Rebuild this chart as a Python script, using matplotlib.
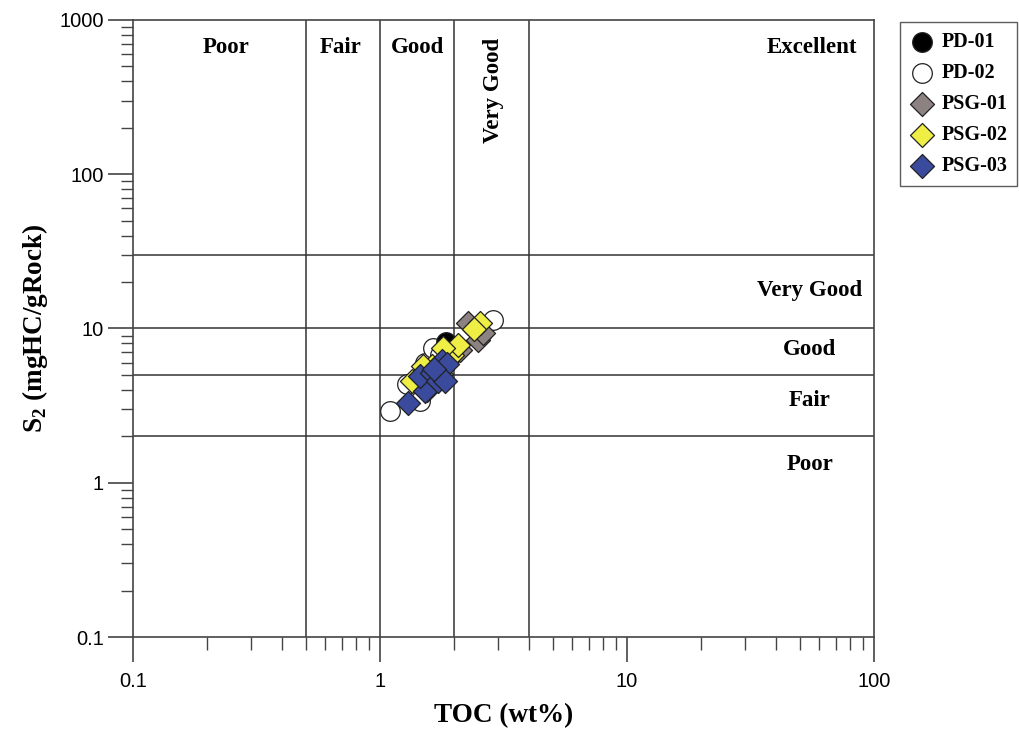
import numpy as np
import matplotlib
matplotlib.use('Agg')
import matplotlib.pyplot as plt
from matplotlib.ticker import LogLocator, FuncFormatter, NullFormatter

plt.rcParams['font.family'] = ['Liberation Sans', 'DejaVu Sans']
plt.rcParams['mathtext.fontset'] = 'custom'
plt.rcParams['mathtext.rm'] = 'Liberation Serif:bold'
plt.rcParams['mathtext.bf'] = 'Liberation Serif:bold'

# samples (TOC wt%, S2 mgHC/gRock)
pd01_toc = [1.85]
pd01_s2 = [8.2]
pd02_toc = [1.10, 1.29, 1.45, 1.52, 1.64, 1.75, 2.61, 2.87]
pd02_s2 = [2.93, 4.39, 3.41, 6.0, 7.5, 6.7, 9.7, 11.3]
psg01_toc = [2.27, 2.49, 2.62, 1.97, 1.77, 1.55, 2.10]
psg01_s2 = [10.9, 8.4, 9.3, 6.7, 5.1, 4.0, 7.2]
psg02_toc = [2.54, 1.96, 2.07, 1.62, 1.49, 1.35, 1.80, 2.40]
psg02_s2 = [10.8, 6.7, 7.8, 5.75, 5.75, 4.6, 7.5, 9.9]
psg03_toc = [1.30, 1.52, 1.45, 1.62, 1.72, 1.78, 1.87, 1.83, 1.66]
psg03_s2 = [3.3, 3.96, 4.95, 5.17, 4.6, 6.2, 5.9, 4.6, 5.5]

# classification limits
toc_limits = [0.5, 1, 2, 4]
s2_limits = [2, 5, 10, 30]
toc_classes = ['Poor', 'Fair', 'Good', 'Very Good', 'Excellent']
toc_class_x = [0.238, 0.695, 1.42, 2.87, 56]
s2_classes = ['Very Good', 'Good', 'Fair', 'Poor']
s2_class_y = [17.6, 7.3, 3.4, 1.31]

fig = plt.figure(figsize=(10.19, 7.29), dpi=100)
ax = fig.add_axes([0.1305, 0.1262, 0.7272, 0.8464])
ax.set_xscale('log')
ax.set_yscale('log')
ax.set_xlim(0.1, 100)
ax.set_ylim(0.1, 1000)

for v in toc_limits:
    ax.axvline(v, color='#333333', lw=1.1, zorder=1)
for v in s2_limits:
    ax.axhline(v, color='#333333', lw=1.1, zorder=1)

lab_font = dict(family='Liberation Serif', weight='bold', fontsize=16.5)
for name, x in zip(toc_classes, toc_class_x):
    if name == 'Very Good':
        ax.text(x, 351, name, rotation=90, ha='center', va='center', **lab_font)
    else:
        ax.text(x, 665, name, ha='center', va='center', **lab_font)
for name, y in zip(s2_classes, s2_class_y):
    ax.text(55, y, name, ha='center', va='center', **lab_font)

mk = dict(edgecolors='#222222', linewidths=0.9, zorder=3)
h2 = ax.scatter(pd02_toc, pd02_s2, marker='o', s=200, facecolors='white', label='PD-02', **mk)
h1 = ax.scatter(pd01_toc, pd01_s2, marker='o', s=200, facecolors='black', label='PD-01', **mk)
h3 = ax.scatter(psg01_toc, psg01_s2, marker='D', s=150, facecolors='#8c8282', label='PSG-01', **mk)
h4 = ax.scatter(psg02_toc, psg02_s2, marker='D', s=150, facecolors='#eeee44', label='PSG-02', **mk)
h5 = ax.scatter(psg03_toc, psg03_s2, marker='D', s=150, facecolors='#3a4a9c', label='PSG-03', **mk)

fmt = FuncFormatter(lambda v, p: '%g' % v)
for axis in (ax.xaxis, ax.yaxis):
    axis.set_major_locator(LogLocator(base=10, numticks=10))
    axis.set_minor_locator(LogLocator(base=10, subs=np.arange(2, 10), numticks=10))
    axis.set_major_formatter(fmt)
    axis.set_minor_formatter(NullFormatter())
ax.tick_params(which='major', direction='out', length=18, width=1.2, color='#444444',
               labelsize=14.5, pad=3)
ax.tick_params(axis='x', which='major', pad=7)
ax.tick_params(which='minor', direction='out', length=9, width=1.0, color='#444444')
for sp in ax.spines.values():
    sp.set_color('#444444')
    sp.set_linewidth(1.2)

ax.set_xlabel('TOC (wt%)', family='Liberation Serif', weight='bold', fontsize=19.5, labelpad=9)
ax.set_ylabel(r'S$_2$ (mgHC/gRock)', family='Liberation Serif', weight='bold', fontsize=19.5, labelpad=7)

leg = fig.legend(handles=[h1, h2, h3, h4, h5], loc='upper left',
                 bbox_to_anchor=(900 / 1019, 1 - 22 / 729), frameon=True, fancybox=False,
                 edgecolor='#333333', prop={'family': 'Liberation Serif', 'weight': 'bold', 'size': 14.5},
                 handletextpad=0.35, borderpad=0.5, labelspacing=0.55, handlelength=1.2,
                 markerscale=1.0, borderaxespad=0)
leg.get_frame().set_linewidth(1.0)

fig.savefig('out.png', dpi=100)
